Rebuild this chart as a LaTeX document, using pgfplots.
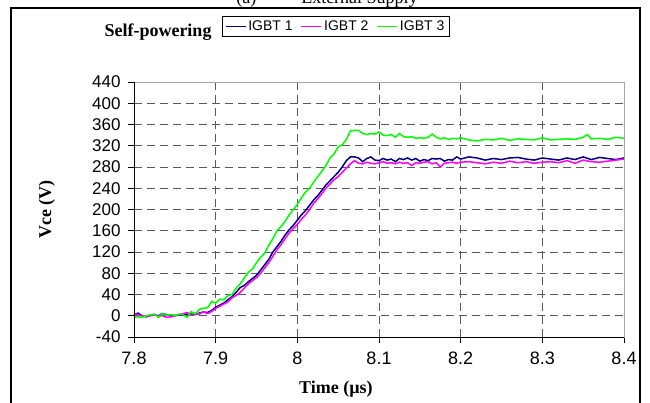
\documentclass[border=0pt]{standalone}
\usepackage{fontspec}
\setmainfont{Liberation Serif}
\newfontfamily\arial{Liberation Sans}
\usepackage{pgfplots}
\pgfplotsset{compat=1.18}
\definecolor{igbtA}{RGB}{0,0,128}
\definecolor{igbtB}{RGB}{255,0,255}
\definecolor{igbtC}{RGB}{0,255,0}
\definecolor{gridc}{RGB}{90,90,90}
\begin{document}
\begin{tikzpicture}[x=1pt,y=1pt]
\useasboundingbox (0pt,0pt) rectangle (650pt,402pt);
\draw[line width=1.3pt] (11pt,-30pt) rectangle (640pt,394pt);
\node[font=\fontsize{18}{18}\selectfont, anchor=base] at (327pt,398pt) {(a)\hspace{2.5em}External Supply};
\begin{axis}[
  at={(134pt,65pt)}, anchor=south west,
  width=490pt, height=255pt, scale only axis,
  xmin=7.8, xmax=8.4, ymin=-40, ymax=440,
  xtick={7.8,7.9,8.0,8.1,8.2,8.3,8.4},
  xticklabels={7.8,7.9,8,8.1,8.2,8.3,8.4},
  ytick={-40,0,40,80,120,160,200,240,280,320,360,400,440},
  yticklabels={-40,0,40,80,120,160,200,240,280,320,360,400,440},
  tick pos=left, tick align=outside, major tick length=6pt,
  tick style={black, line width=0.8pt},
  xticklabel style={font=\arial\fontsize{18}{18}\selectfont, yshift=-5pt},
  yticklabel style={font=\arial\fontsize{17}{17}\selectfont, xshift=-4pt},
  grid=major,
  major grid style={gridc, line width=0.9pt, dash pattern=on 8pt off 5pt},
  axis line style={gray!70, line width=0.9pt},
  xlabel={\textbf{Time (µs)}},
  xlabel style={font=\fontsize{18}{18}\selectfont, at={(axis description cs:0.412,-0.204)}, anchor=center},
  ylabel={\textbf{Vce (V)}},
  ylabel style={font=\fontsize{18}{18}\selectfont, at={(axis description cs:-0.178,0.5)}, anchor=center},
  legend columns=3,
  legend style={at={(axis description cs:0.1796,1.2588)}, anchor=north west,
    draw=black, line width=0.6pt, font=\arial\fontsize{14}{14}\selectfont,
    inner sep=2.5pt, row sep=0pt,
    /tikz/every even column/.append style={column sep=6pt}},
  legend image code/.code={\draw[#1, line width=1.5pt] (0pt,0pt) -- (20pt,0pt);},
  clip=false,
]
\addplot[igbtA, line width=1.5pt] table {
7.800 2
7.805 5
7.810 0
7.815 -2
7.820 1
7.825 2
7.830 0
7.835 4
7.840 2
7.845 1
7.850 0
7.855 2
7.860 1
7.865 3
7.870 4
7.875 2
7.880 5
7.885 7
7.890 6
7.895 10
7.900 16
7.905 20
7.910 24
7.915 30
7.920 36
7.925 44
7.930 53
7.935 57
7.940 64
7.945 70
7.950 76
7.955 86
7.960 96
7.965 106
7.970 120
7.975 130
7.980 140
7.985 152
7.990 162
7.995 170
8.000 180
8.005 190
8.010 198
8.015 208
8.020 218
8.025 226
8.030 236
8.035 246
8.040 254
8.045 262
8.050 270
8.055 280
8.060 292
8.065 299
8.070 299
8.075 297
8.080 290
8.085 296
8.090 299
8.095 293
8.100 292
8.105 296
8.110 293
8.115 295
8.120 290
8.125 296
8.130 294
8.135 297
8.140 293
8.145 296
8.150 291
8.155 294
8.160 292
8.165 296
8.170 295
8.175 296
8.180 291
8.185 294
8.190 293
8.195 299
8.200 295
8.210 299
8.220 297
8.230 293
8.240 296
8.250 294
8.260 297
8.270 298
8.280 295
8.290 293
8.300 297
8.310 295
8.320 293
8.330 297
8.340 294
8.350 299
8.360 294
8.370 298
8.380 296
8.390 294
8.400 297
};
\addlegendentry{IGBT 1}
\addplot[igbtB, line width=1.5pt] table {
7.800 5
7.805 1
7.810 0
7.815 -1
7.820 0
7.825 2
7.830 -1
7.835 0
7.840 -3
7.845 -2
7.850 0
7.855 2
7.860 4
7.865 6
7.870 2
7.875 5
7.880 3
7.885 8
7.890 4
7.895 8
7.900 14
7.905 18
7.910 22
7.915 26
7.920 34
7.925 38
7.930 44
7.935 52
7.940 60
7.945 66
7.950 72
7.955 80
7.960 90
7.965 100
7.970 112
7.975 124
7.980 134
7.985 145
7.990 156
7.995 164
8.000 172
8.005 182
8.010 190
8.015 200
8.020 212
8.025 220
8.030 230
8.035 240
8.040 248
8.045 256
8.050 262
8.055 270
8.060 278
8.065 286
8.070 292
8.075 287
8.080 286
8.085 289
8.090 287
8.095 286
8.100 288
8.105 290
8.110 287
8.115 288
8.120 286
8.125 289
8.130 287
8.135 288
8.140 283
8.145 288
8.150 287
8.155 289
8.160 290
8.165 286
8.170 288
8.175 280
8.180 287
8.185 288
8.190 289
8.195 287
8.200 289
8.210 290
8.220 288
8.230 286
8.240 289
8.250 287
8.260 291
8.270 288
8.280 290
8.290 287
8.300 289
8.310 290
8.320 288
8.330 292
8.340 287
8.350 293
8.360 290
8.370 289
8.380 291
8.390 293
8.400 295
};
\addlegendentry{IGBT 2}
\addplot[igbtC, line width=1.5pt] table {
7.800 -3
7.805 -2
7.810 -3
7.815 0
7.820 2
7.825 3
7.830 -3
7.835 4
7.840 1
7.845 2
7.850 1
7.855 3
7.860 2
7.865 -3
7.870 8
7.875 3
7.880 12
7.885 14
7.890 15
7.895 27
7.900 24
7.905 31
7.910 30
7.915 38
7.920 40
7.925 52
7.930 60
7.935 71
7.940 82
7.945 88
7.950 100
7.955 110
7.960 118
7.965 133
7.970 145
7.975 160
7.980 168
7.985 178
7.990 190
7.995 200
8.000 210
8.005 222
8.010 233
8.015 240
8.020 252
8.025 262
8.030 272
8.035 283
8.040 297
8.045 305
8.050 318
8.055 322
8.060 332
8.065 348
8.070 349
8.075 349
8.080 343
8.085 341
8.090 343
8.095 342
8.100 346
8.105 340
8.110 339
8.115 341
8.120 336
8.125 343
8.130 337
8.135 336
8.140 337
8.145 334
8.150 335
8.155 334
8.160 336
8.165 342
8.170 336
8.175 333
8.180 335
8.185 332
8.190 334
8.195 333
8.200 335
8.210 331
8.220 329
8.230 332
8.240 331
8.250 334
8.260 330
8.270 333
8.280 332
8.290 331
8.300 335
8.310 331
8.320 332
8.330 333
8.340 332
8.350 336
8.355 341
8.360 333
8.370 334
8.380 332
8.390 336
8.400 334
};
\addlegendentry{IGBT 3}
\draw[black, line width=0.9pt] (rel axis cs:0,1) -- (rel axis cs:0,0) -- (rel axis cs:1,0);
\node[font=\bfseries\fontsize{18}{18}\selectfont, anchor=center] at (axis description cs:0.049,1.196) {Self-powering};
\end{axis}
\end{tikzpicture}
\end{document}
